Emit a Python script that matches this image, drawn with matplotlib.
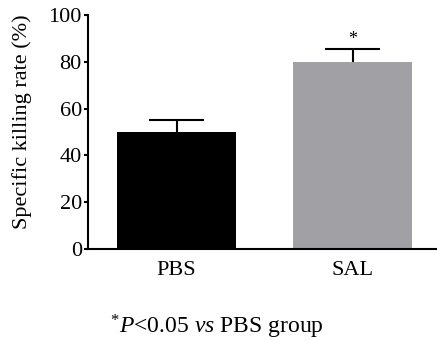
import matplotlib
matplotlib.use("Agg")
import matplotlib.pyplot as plt
import numpy as np

groups = ["PBS", "SAL"]
rates = [50, 80]
errors = [5, 5.5]
colors = ["#000000", "#a1a0a5"]

plt.rcParams["font.family"] = ["Liberation Serif", "DejaVu Serif"]
plt.rcParams["mathtext.fontset"] = "custom"
plt.rcParams["mathtext.rm"] = "Liberation Serif"
plt.rcParams["mathtext.it"] = "Liberation Serif:italic"

fig = plt.figure(figsize=(4.37, 3.41), dpi=100)
ax = fig.add_axes([0.2014, 0.2698, 0.7986, 0.6862])

x = np.arange(len(groups))
tops = np.array(rates) + np.array(errors)
ax.bar(x, rates, width=0.676, color=colors, zorder=2)
# upper error bars only
ax.vlines(x, rates, tops, colors="black", linewidth=1.5, zorder=1)
ax.hlines(tops, x - 0.155, x + 0.155, colors="black", linewidth=1.5, zorder=1)

# significance mark
ax.text(1, tops[1] + 0.5, "*", ha="center", va="bottom", fontsize=13)

ax.set_xlim(-0.503, 1.48)
ax.set_ylim(0, 100)
ax.set_yticks([0, 20, 40, 60, 80, 100])
ax.set_xticks(x)
ax.set_xticklabels(groups)
ax.tick_params(axis="x", length=0, pad=9, labelsize=16)
ax.tick_params(axis="y", length=3, width=1.5, pad=1.5, labelsize=16)
ax.set_ylabel("Specific killing rate (%)", fontsize=16)
ax.yaxis.set_label_coords(-0.16, 0.545)

ax.spines["top"].set_visible(False)
ax.spines["right"].set_visible(False)
ax.spines["left"].set_linewidth(1.5)
ax.spines["bottom"].set_linewidth(1.5)

fig.text(0.497, 0.023, r"$^{*}\mathit{P}$<0.05 $\mathit{vs}$ PBS group",
         ha="center", va="baseline", fontsize=17)

fig.savefig("out.png", dpi=100)
